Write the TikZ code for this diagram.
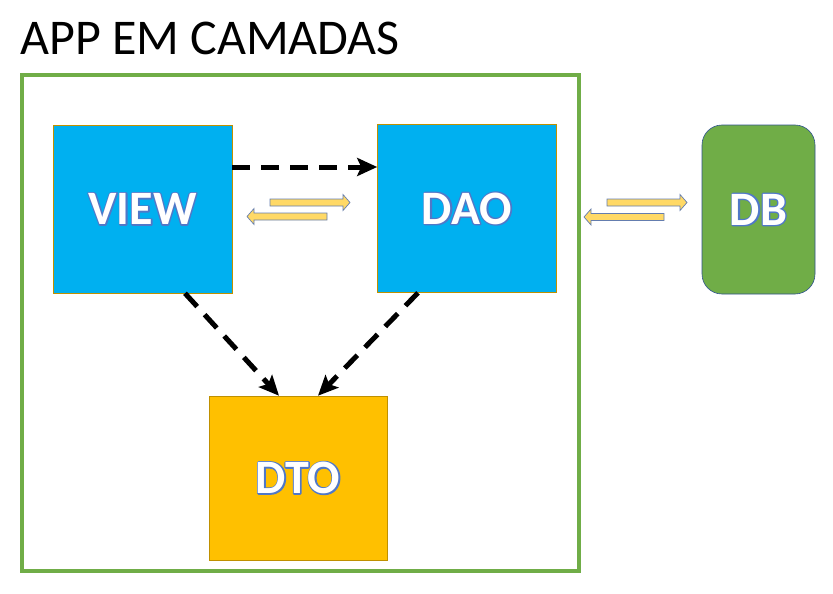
\documentclass[tikz,border=0pt]{standalone}
\usepackage{fontspec}
\setmainfont{Carlito}
\usepackage{tikz}
\usetikzlibrary{positioning,arrows.meta}

\definecolor{viewblue}{RGB}{0,176,240}
\definecolor{dtogold}{RGB}{255,192,0}
\definecolor{goldline}{RGB}{191,144,0}
\definecolor{appgreen}{RGB}{112,173,71}
\definecolor{flowyellow}{RGB}{255,217,102}
\definecolor{flowline}{RGB}{100,125,175}
\definecolor{dbline}{RGB}{47,82,143}
\definecolor{rim}{RGB}{80,120,200}

% white letters with a blue rim (pdf text render mode 1 under a plain copy)
\newcommand{\layertext}[1]{\rlap{\textcolor{rim}{\special{pdf:literal direct 1 Tr 2.6 w 1 J 1 j}#1\special{pdf:literal direct 0 Tr 0.4 w 0 J 0 j}}}\textcolor{white}{#1}}

\tikzset{
	layer/.style={rectangle, fill=viewblue, draw=goldline, line width=0.6pt, minimum width=179pt, minimum height=168pt, inner sep=0pt, font=\bfseries\fontsize{48}{56}\selectfont},
	dasharrow/.style={->, >={Stealth[length=20pt,width=18pt,inset=4pt]}, line width=5pt, dash pattern=on 18pt off 11pt},
	flow/.pic={\draw[fill=flowyellow, draw=flowline, line width=0.7pt] (-80,-3.5) -- (-7,-3.5) -- (-7,-8) -- (0,0) -- (-7,8) -- (-7,3.5) -- (-80,3.5) -- cycle;}
}

\begin{document}
\begin{tikzpicture}[x=1pt, y=-1pt]
	\useasboundingbox (0,0) rectangle (833,594);
	\node[anchor=base west, inner sep=0pt, font=\fontsize{50}{60}\selectfont] (title) at (20,55) {APP EM CAMADAS};
	\draw[appgreen, line width=3.5pt] (22,75) rectangle (579,571);
	\node[layer] (VIEW) at (142.5,209) {\layertext{VIEW}};
	\node[layer] (DAO) at (467,208.5) {\layertext{DAO}};
	\node[layer, fill=dtogold, minimum width=178pt, minimum height=164pt] (DTO) at (298,478) {\layertext{DTO}};
	\node[layer, fill=appgreen, draw=dbline, rounded corners=20pt, minimum width=113pt, minimum height=169pt] (DB) at (758.5,209.5) {\layertext{DB}};
	\draw[dasharrow] ([yshift=42pt]VIEW.east) -- ([yshift=41.5pt]DAO.west);
	\draw[dasharrow] ([xshift=42.5pt]VIEW.south) -- ([xshift=-19pt]DTO.north);
	\draw[dasharrow] ([xshift=-49pt]DAO.south) -- ([xshift=20pt]DTO.north);
	\pic at (350,202.5) {flow};
	\pic[rotate=180] at (247,216.5) {flow};
	\pic at (687,202.5) {flow};
	\pic[rotate=180] at (584,217) {flow};
\end{tikzpicture}
\end{document}
